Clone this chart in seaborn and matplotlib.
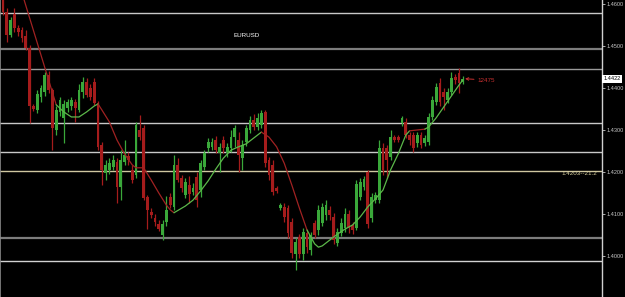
import numpy as np
import pandas as pd
import matplotlib
matplotlib.use("Agg")
import matplotlib.pyplot as plt
import matplotlib.transforms as mtransforms
import seaborn as sns

# ---------------- data (EURUSD candles) ----------------
opens = [1.4614, 1.4581, 1.4526, 1.4576, 1.4543, 1.4538, 1.4524, 1.4495, 1.4357, 1.4348,
         1.4379, 1.4390, 1.4431, 1.4395, 1.4300, 1.4343, 1.4329, 1.4352, 1.4357, 1.4367,
         1.4348, 1.4390, 1.4414, 1.4400, 1.4414, 1.4364, 1.4264, 1.4198, 1.4205, 1.4212,
         1.4224, 1.4164, 1.4224, 1.4238, 1.4205, 1.4193, 1.4300, 1.4305, 1.4140, 1.4105,
         1.4091, 1.4076, 1.4050, 1.4081, 1.4140, 1.4117, 1.4217, 1.4186, 1.4145, 1.4169,
         1.4152, 1.4188, 1.4157, 1.4212, 1.4257, 1.4260, 1.4276, 1.4245, 1.4276, 1.4245,
         1.4257, 1.4283, 1.4276, 1.4233, 1.4271, 1.4300, 1.4324, 1.4307, 1.4312, 1.4343,
         1.4229, 1.4217, 1.4162, 1.4114, 1.4117, 1.4114, 1.4081, 1.4005, 1.4045, 1.4005,
         1.4055, 1.4014, 1.4079, 1.4062, 1.4079, 1.4098, 1.4110, 1.4093, 1.4031, 1.4055,
         1.4067, 1.4100, 1.4074, 1.4067, 1.4140, 1.4164, 1.4200, 1.4091, 1.4133, 1.4133,
         1.4257, 1.4257, 1.4236, 1.4283, 1.4283, 1.4317, 1.4319, 1.4288, 1.4288, 1.4269,
         1.4288, 1.4269, 1.4271, 1.4331, 1.4367, 1.4412, 1.4390, 1.4371, 1.4390, 1.4426,
         1.4436, 1.4414]
highs = [1.4629, 1.4591, 1.4569, 1.4591, 1.4550, 1.4545, 1.4538, 1.4502, 1.4362, 1.4395,
         1.4407, 1.4438, 1.4441, 1.4400, 1.4357, 1.4379, 1.4371, 1.4374, 1.4379, 1.4374,
         1.4410, 1.4426, 1.4424, 1.4410, 1.4424, 1.4369, 1.4271, 1.4229, 1.4233, 1.4240,
         1.4233, 1.4252, 1.4276, 1.4248, 1.4217, 1.4319, 1.4336, 1.4312, 1.4145, 1.4114,
         1.4100, 1.4086, 1.4086, 1.4143, 1.4150, 1.4240, 1.4233, 1.4193, 1.4186, 1.4190,
         1.4174, 1.4200, 1.4229, 1.4252, 1.4281, 1.4281, 1.4286, 1.4269, 1.4286, 1.4269,
         1.4300, 1.4312, 1.4295, 1.4276, 1.4312, 1.4333, 1.4338, 1.4340, 1.4348, 1.4348,
         1.4236, 1.4229, 1.4167, 1.4126, 1.4126, 1.4121, 1.4091, 1.4043, 1.4052, 1.4067,
         1.4062, 1.4057, 1.4086, 1.4121, 1.4126, 1.4133, 1.4119, 1.4102, 1.4067, 1.4091,
         1.4114, 1.4110, 1.4081, 1.4181, 1.4186, 1.4190, 1.4205, 1.4150, 1.4152, 1.4276,
         1.4269, 1.4264, 1.4300, 1.4288, 1.4288, 1.4333, 1.4329, 1.4295, 1.4295, 1.4295,
         1.4295, 1.4288, 1.4340, 1.4381, 1.4412, 1.4424, 1.4400, 1.4400, 1.4438, 1.4433,
         1.4448, 1.4429]
lows = [1.4574, 1.4510, 1.4521, 1.4533, 1.4524, 1.4510, 1.4490, 1.4317, 1.4345, 1.4340,
        1.4367, 1.4381, 1.4388, 1.4252, 1.4288, 1.4333, 1.4269, 1.4343, 1.4348, 1.4319,
        1.4343, 1.4376, 1.4379, 1.4371, 1.4360, 1.4252, 1.4169, 1.4181, 1.4195, 1.4205,
        1.4126, 1.4133, 1.4217, 1.4217, 1.4174, 1.4186, 1.4276, 1.4133, 1.4064, 1.4091,
        1.4071, 1.4060, 1.4038, 1.4071, 1.4114, 1.4110, 1.4176, 1.4152, 1.4138, 1.4126,
        1.4145, 1.4117, 1.4140, 1.4205, 1.4248, 1.4252, 1.4245, 1.4200, 1.4245, 1.4236,
        1.4248, 1.4260, 1.4200, 1.4205, 1.4262, 1.4293, 1.4300, 1.4300, 1.4305, 1.4212,
        1.4181, 1.4145, 1.4150, 1.4110, 1.4081, 1.4043, 1.3995, 1.3967, 1.3995, 1.3990,
        1.4007, 1.4002, 1.4043, 1.4050, 1.4071, 1.4086, 1.4086, 1.4029, 1.4024, 1.4048,
        1.4057, 1.4055, 1.4052, 1.4062, 1.4133, 1.4157, 1.4067, 1.4081, 1.4126, 1.4126,
        1.4193, 1.4186, 1.4229, 1.4271, 1.4271, 1.4310, 1.4281, 1.4264, 1.4248, 1.4260,
        1.4257, 1.4262, 1.4264, 1.4324, 1.4360, 1.4357, 1.4348, 1.4364, 1.4383, 1.4410,
        1.4388, 1.4410]
closes = [1.4581, 1.4526, 1.4562, 1.4543, 1.4533, 1.4519, 1.4495, 1.4357, 1.4350, 1.4386,
          1.4400, 1.4431, 1.4395, 1.4305, 1.4348, 1.4371, 1.4362, 1.4367, 1.4371, 1.4352,
          1.4395, 1.4414, 1.4383, 1.4379, 1.4364, 1.4260, 1.4205, 1.4217, 1.4221, 1.4229,
          1.4164, 1.4229, 1.4240, 1.4229, 1.4181, 1.4312, 1.4283, 1.4138, 1.4110, 1.4098,
          1.4081, 1.4064, 1.4076, 1.4110, 1.4121, 1.4217, 1.4181, 1.4162, 1.4176, 1.4148,
          1.4162, 1.4133, 1.4221, 1.4245, 1.4271, 1.4271, 1.4252, 1.4260, 1.4257, 1.4260,
          1.4283, 1.4305, 1.4240, 1.4264, 1.4305, 1.4324, 1.4307, 1.4329, 1.4340, 1.4221,
          1.4193, 1.4152, 1.4155, 1.4121, 1.4093, 1.4055, 1.4007, 1.4033, 1.4005, 1.4057,
          1.4021, 1.4050, 1.4050, 1.4110, 1.4117, 1.4121, 1.4098, 1.4038, 1.4057, 1.4079,
          1.4100, 1.4067, 1.4062, 1.4171, 1.4176, 1.4183, 1.4076, 1.4140, 1.4145, 1.4257,
          1.4205, 1.4229, 1.4283, 1.4276, 1.4276, 1.4329, 1.4288, 1.4276, 1.4257, 1.4288,
          1.4264, 1.4281, 1.4331, 1.4371, 1.4402, 1.4367, 1.4379, 1.4390, 1.4424, 1.4419,
          1.4412, 1.4422]

# trend-coloured moving average (knots)
ma_index = [5, 14, 16, 18, 20, 22, 24, 25, 26, 28, 30, 32, 34, 35, 37, 39, 41, 43, 44, 45,
            48, 50, 52, 54, 56, 58, 60, 62, 64, 66, 68, 70, 72, 74, 76, 78, 80, 82, 83, 84,
            86, 88, 90, 92, 94, 96, 98, 100, 102, 104, 106, 107, 109, 111, 112, 114, 116,
            118, 120, 121]
ma_value = [1.4626, 1.4360, 1.4343, 1.4331, 1.4331, 1.4343, 1.4357, 1.4362, 1.4348, 1.4319,
            1.4276, 1.4243, 1.4217, 1.4210, 1.4210, 1.4181, 1.4150, 1.4121, 1.4110, 1.4103,
            1.4119, 1.4133, 1.4155, 1.4179, 1.4207, 1.4233, 1.4252, 1.4260, 1.4267, 1.4281,
            1.4295, 1.4283, 1.4260, 1.4221, 1.4169, 1.4114, 1.4062, 1.4029, 1.4021, 1.4024,
            1.4038, 1.4052, 1.4064, 1.4074, 1.4093, 1.4117, 1.4136, 1.4157, 1.4205, 1.4243,
            1.4288, 1.4298, 1.4300, 1.4302, 1.4307, 1.4329, 1.4355, 1.4381, 1.4407, 1.4419]
# trend of the segment ending at each knot (first entry unused)
ma_trend = ["down", "down", "up", "up", "up", "up", "up", "up", "down", "down",
            "down", "down", "down", "down", "down", "down", "down", "down", "down", "down",
            "up", "up", "up", "up", "up", "up", "up", "up", "up", "up",
            "up", "down", "down", "down", "down", "down", "down", "up", "up", "up",
            "up", "up", "up", "up", "up", "up", "up", "up", "up", "up",
            "up", "up", "down", "down", "up", "up", "up", "up", "up", "up"]

level_prices = [1.4579, 1.4493, 1.4445, 1.4317, 1.4248, 1.4203, 1.4043, 1.3988]
level_colors = ["#c8c8c8", "#7c7c7c", "#9a9a9a", "#c8c8c8", "#c8c8c8", "#cfc7a0", "#7c7c7c", "#d2d2d2"]
tick_values = [1.4600, 1.4500, 1.4400, 1.4300, 1.4200, 1.4100, 1.4000]
tick_labels = ["1.4600", "1.4500", "1.4400", "1.4300", "1.4200", "1.4100", "1.4000"]
symbol = "EURUSD"
last_price = 1.4422
last_label = "1.4422"
spread_label = "12475"
level_label = "1.4203--21.2"

# ---------------- style ----------------
sns.set_theme(style="dark", rc={"axes.facecolor": "black", "figure.facecolor": "black"})
plt.rcParams["font.family"] = ["Liberation Sans", "DejaVu Sans"]

RED = "#a51c1c"
GREEN = "#3aa83a"
MA_RED = "#a02222"
MA_GREEN = "#5cb84a"

df = pd.DataFrame({"open": opens, "high": highs, "low": lows, "close": closes})
df["idx"] = np.arange(len(df))
df["bull"] = df["close"] >= df["open"]
df["color"] = np.where(df["bull"], GREEN, RED)
df["body_lo"] = df[["open", "close"]].min(axis=1)
df["body_h"] = (df["close"] - df["open"]).abs().clip(lower=0.00005)

fig = plt.figure(figsize=(6.25, 2.97), dpi=100)
ax = fig.add_axes([0, 0, 602 / 625, 1])
ax.set_facecolor("black")

# horizontal levels
for p, c in zip(level_prices, level_colors):
    lw = 1.6 if c == "#7c7c7c" else 1.0
    ax.axhline(p, color=c, lw=lw, zorder=1)

# candles
ax.vlines(df["idx"], df["low"], df["high"], colors=df["color"], lw=0.9, zorder=3)
ax.bar(df["idx"], df["body_h"], bottom=df["body_lo"], width=0.7,
       color=df["color"], linewidth=0, zorder=4)

# trend coloured MA drawn in runs with seaborn
ma = pd.DataFrame({"idx": ma_index, "val": ma_value, "trend": ma_trend})
runs = []
start = 0
for k in range(2, len(ma) + 1):
    if k == len(ma) or ma["trend"].iloc[k] != ma["trend"].iloc[k - 1]:
        runs.append((start, k))
        start = k - 1
for a, b in runs:
    seg = ma.iloc[a:b]
    col = MA_GREEN if seg["trend"].iloc[-1] == "up" else MA_RED
    sns.lineplot(data=seg, x="idx", y="val", ax=ax, color=col, lw=0.9,
                 estimator=None, sort=False, zorder=5)

ax.set_xlim(-3 / 3.8, 599 / 3.8)
ax.set_ylim(1.46095 - 297 / 4200, 1.46095)
ax.set_xlabel("")
ax.set_ylabel("")
ax.set_xticks([])
ax.grid(False)

ax.yaxis.tick_right()
ax.set_yticks(tick_values)
ax.set_yticklabels(tick_labels)
ax.tick_params(axis="y", colors="#c8c8c8", labelsize=4.0, length=2.0, width=0.6, pad=1.2,
               right=True, left=False, labelright=True, labelleft=False)
for s in ["top", "bottom"]:
    ax.spines[s].set_visible(False)
ax.spines["right"].set_color("#d0d0d0")
ax.spines["right"].set_linewidth(1.0)
ax.spines["left"].set_color("#8a8a8a")
ax.spines["left"].set_linewidth(1.2)

# annotations
ax.text(64, 1.4526, symbol, color="white", fontsize=4.5, ha="center", va="center")
ax.text(156.3, level_prices[5] - 0.0001, level_label, color="#d8d0a0", fontsize=4.5,
        ha="right", va="top")
ax.annotate(spread_label, xy=(121.6, last_price), xytext=(124.8, last_price - 0.0003),
            color="#c83030", fontsize=4.5, va="center", ha="left",
            arrowprops=dict(arrowstyle="->", color="#c83030", lw=0.7,
                            shrinkA=0, shrinkB=0))
trans = mtransforms.blended_transform_factory(ax.transAxes, ax.transData)
ax.text(1.003, last_price, last_label, transform=trans, color="black", fontsize=4.0,
        ha="left", va="center", clip_on=False,
        bbox=dict(facecolor="white", edgecolor="none", boxstyle="square,pad=0.25"))

fig.savefig("out.png", dpi=100, facecolor="black")
